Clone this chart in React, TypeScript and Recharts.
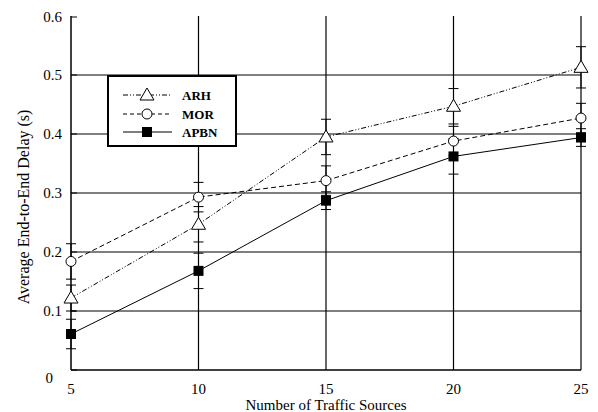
import React from 'react';
import { LineChart, Line, XAxis, YAxis, ReferenceLine, ErrorBar } from 'recharts';

const sources = [5, 10, 15, 20, 25];
const arh = [0.122, 0.247, 0.395, 0.447, 0.513];
const mor = [0.184, 0.293, 0.321, 0.388, 0.427];
const apbn = [0.061, 0.168, 0.287, 0.362, 0.394];
const arhErr = [0.022, 0.03, 0.03, 0.03, 0.035];
const morErr = [0.03, 0.025, 0.025, 0.025, 0.025];
const apbnErr = [0.025, 0.03, 0.015, 0.03, 0.015];
const yTicks = [0, 0.1, 0.2, 0.3, 0.4, 0.5, 0.6];
const xTicks = [5, 10, 15, 20, 25];
const hGrid = [0.1, 0.2, 0.3, 0.4, 0.5];
const vGrid = [10, 15, 20, 25];
const seriesNames = ['ARH', 'MOR', 'APBN'];

const data = sources.map((s, i) => ({
  s,
  arh: arh[i],
  mor: mor[i],
  apbn: apbn[i],
  arhErr: arhErr[i],
  morErr: morErr[i],
  apbnErr: apbnErr[i],
}));

const FONT = '"Liberation Serif", "Times New Roman", serif';

const Triangle = (props: any) => {
  const { cx, cy } = props;
  if (cx == null || cy == null) return <g key={props.key} />;
  return (
    <polygon
      key={props.key}
      points={`${cx},${cy - 7} ${cx - 7},${cy + 5} ${cx + 7},${cy + 5}`}
      fill="#fff"
      stroke="#000"
      strokeWidth={1}
    />
  );
};

const Circle = (props: any) => {
  const { cx, cy } = props;
  if (cx == null || cy == null) return <g key={props.key} />;
  return <circle key={props.key} cx={cx} cy={cy} r={5} fill="#fff" stroke="#000" strokeWidth={1} />;
};

const Square = (props: any) => {
  const { cx, cy } = props;
  if (cx == null || cy == null) return <g key={props.key} />;
  return <rect key={props.key} x={cx - 5} y={cy - 5} width={10} height={10} fill="#000" />;
};

const YTick = (props: any) => {
  const { x, y, payload } = props;
  const isZero = payload.value === 0;
  return (
    <g>
      <line x1={x} y1={y} x2={x + 6} y2={y} stroke="#000" strokeWidth={1} />
      <text
        x={isZero ? x - 18 : x - 9}
        y={isZero ? y + 13 : y + 5}
        textAnchor="end"
        fontFamily={FONT}
        fontSize={15}
        fill="#000"
      >
        {payload.value}
      </text>
    </g>
  );
};

const XTick = (props: any) => {
  const { x, y, payload } = props;
  return (
    <text x={x} y={y + 24} textAnchor="middle" fontFamily={FONT} fontSize={15} fill="#000">
      {payload.value}
    </text>
  );
};

const LegendBox = () => {
  const rows = [
    { name: seriesNames[0], dash: '5 2 1 2 1 2', y: 18 },
    { name: seriesNames[1], dash: '4 3', y: 37 },
    { name: seriesNames[2], dash: undefined, y: 55 },
  ];
  return (
    <div
      style={{
        position: 'absolute',
        left: 99,
        top: 67,
        width: 130,
        height: 72,
        border: '2px solid #000',
        boxSizing: 'border-box',
        background: '#fff',
      }}
    >
      <svg width={126} height={68} style={{ display: 'block' }}>
        {rows.map((r, i) => (
          <g key={r.name}>
            <line x1={14} y1={r.y} x2={63} y2={r.y} stroke="#000" strokeWidth={1} strokeDasharray={r.dash} />
            {i === 0 && <Triangle cx={38} cy={r.y} />}
            {i === 1 && <Circle cx={38} cy={r.y} />}
            {i === 2 && <Square cx={38} cy={r.y} />}
            <text x={73} y={r.y + 5} fontFamily={FONT} fontWeight="bold" fontSize={13} fill="#000">
              {r.name}
            </text>
          </g>
        ))}
      </svg>
    </div>
  );
};

export default function App() {
  return (
    <div style={{ position: 'relative', width: 590, height: 404, background: '#fff' }}>
      <LineChart width={590} height={404} data={data} margin={{ top: 8, right: 17, left: 3, bottom: 12 }}>
        <XAxis
          dataKey="s"
          type="number"
          domain={[5, 25]}
          ticks={xTicks}
          tickSize={0}
          tickMargin={0}
          tick={<XTick />}
          axisLine={{ stroke: '#000', strokeWidth: 1.5 }}
          tickLine={false}
          height={30}
          label={{
            content: (p: any) => {
              const vb = p.viewBox;
              return (
                <text x={vb.x + vb.width / 2} y={vb.y + 40} textAnchor="middle" fontFamily={FONT} fontSize={15} fill="#000">
                  Number of Traffic Sources
                </text>
              );
            },
          }}
        />
        <YAxis
          type="number"
          domain={[0, 0.6]}
          ticks={yTicks}
          tickSize={0}
          tickMargin={0}
          tick={<YTick />}
          tickLine={false}
          axisLine={{ stroke: '#000', strokeWidth: 1.5 }}
          width={60}
          label={{
            content: (p: any) => {
              const vb = p.viewBox;
              const cx = vb.x + 12;
              const cy = vb.y + vb.height / 2 + 14;
              return (
                <text
                  x={cx}
                  y={cy}
                  transform={`rotate(-90, ${cx}, ${cy})`}
                  textAnchor="middle"
                  dominantBaseline="central"
                  fontFamily={FONT}
                  fontSize={16}
                  fill="#000"
                >
                  Average End-to-End Delay (s)
                </text>
              );
            },
          }}
        />
        {hGrid.map((v) => (
          <ReferenceLine key={'h' + v} y={v} stroke="#000" strokeWidth={1.2} />
        ))}
        {vGrid.map((v) => (
          <ReferenceLine key={'v' + v} x={v} stroke="#000" strokeWidth={1.2} />
        ))}
        <Line
          name={seriesNames[0]}
          dataKey="arh"
          stroke="#000"
          strokeWidth={1}
          strokeDasharray="5 2 1 2 1 2"
          dot={Triangle}
          isAnimationActive={false}
        >
          <ErrorBar dataKey="arhErr" width={5} stroke="#000" strokeWidth={1} direction="y" />
        </Line>
        <Line
          name={seriesNames[1]}
          dataKey="mor"
          stroke="#000"
          strokeWidth={1}
          strokeDasharray="5 3"
          dot={Circle}
          isAnimationActive={false}
        >
          <ErrorBar dataKey="morErr" width={5} stroke="#000" strokeWidth={1} direction="y" />
        </Line>
        <Line
          name={seriesNames[2]}
          dataKey="apbn"
          stroke="#000"
          strokeWidth={1}
          dot={Square}
          isAnimationActive={false}
        >
          <ErrorBar dataKey="apbnErr" width={5} stroke="#000" strokeWidth={1} direction="y" />
        </Line>
      </LineChart>
      <LegendBox />
    </div>
  );
}
